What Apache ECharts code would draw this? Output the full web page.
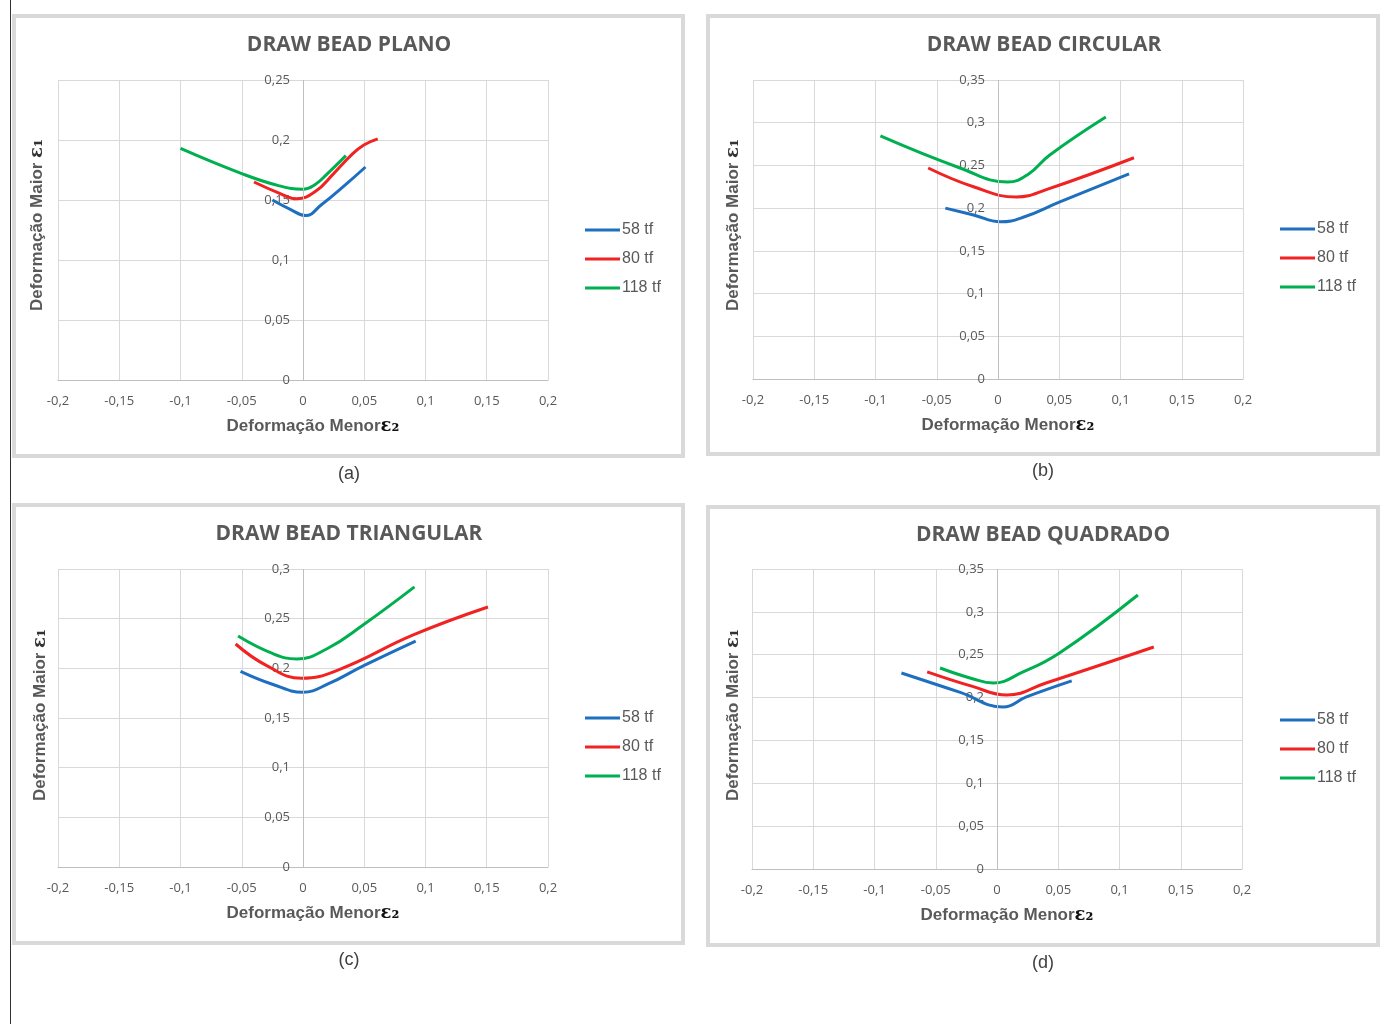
<!DOCTYPE html>
<html><head><meta charset="utf-8">
<script src="https://cdn.jsdelivr.net/npm/echarts@6/dist/echarts.min.js"></script>
<style>html,body{margin:0;padding:0;background:#fff}#c{width:1384px;height:1024px}</style>
</head><body><div id="c"></div>
<script>
// ---- data ----
const seriesNames = ['58 tf', '80 tf', '118 tf'];
const titles = ['DRAW BEAD PLANO', 'DRAW BEAD CIRCULAR', 'DRAW BEAD TRIANGULAR', 'DRAW BEAD QUADRADO'];
const captions = ['(a)', '(b)', '(c)', '(d)'];
const xTicks = [-0.2, -0.15, -0.1, -0.05, 0, 0.05, 0.1, 0.15, 0.2];
const yMaxes = [0.25, 0.35, 0.3, 0.35];

const planoBlue  = [[-0.025,0.150],[-0.010,0.142],[0.002,0.137],[0.015,0.146],[0.035,0.163],[0.051,0.1775]];
const planoRed   = [[-0.040,0.165],[-0.020,0.156],[-0.005,0.151],[0.010,0.157],[0.025,0.172],[0.040,0.188],[0.050,0.196],[0.061,0.201]];
const planoGreen = [[-0.100,0.193],[-0.050,0.172],[-0.020,0.162],[0.000,0.159],[0.010,0.163],[0.020,0.172],[0.035,0.187]];

const circBlue  = [[-0.043,0.200],[-0.020,0.192],[0.002,0.184],[0.020,0.189],[0.050,0.207],[0.107,0.240]];
const circRed   = [[-0.057,0.247],[-0.020,0.225],[0.015,0.213],[0.040,0.222],[0.111,0.259]];
const circGreen = [[-0.096,0.2845],[-0.031,0.247],[0.008,0.2306],[0.025,0.240],[0.042,0.262],[0.088,0.3067]];

const triBlue  = [[-0.051,0.197],[-0.025,0.184],[0.000,0.176],[0.020,0.184],[0.050,0.203],[0.092,0.2275]];
const triRed   = [[-0.055,0.2245],[-0.030,0.203],[-0.001,0.190],[0.030,0.199],[0.090,0.2336],[0.151,0.2617]];
const triGreen = [[-0.053,0.2325],[-0.025,0.215],[-0.005,0.2094],[0.020,0.220],[0.049,0.2436],[0.091,0.282]];

const quadBlue  = [[-0.078,0.2287],[-0.030,0.206],[0.005,0.189],[0.024,0.2007],[0.061,0.2194]];
const quadRed   = [[-0.057,0.230],[-0.020,0.213],[0.008,0.203],[0.040,0.217],[0.128,0.259]];
const quadGreen = [[-0.0465,0.2345],[-0.020,0.222],[-0.003,0.217],[0.020,0.229],[0.051,0.252],[0.115,0.3197]];

const panelData = [
  [planoBlue, planoRed, planoGreen],
  [circBlue, circRed, circGreen],
  [triBlue, triRed, triGreen],
  [quadBlue, quadRed, quadGreen]
];

// ---- layout ----
const colors = ['#1f6fc0', '#f02222', '#00b050'];
const grids = [
  {left: 58, top: 80, width: 490, height: 300},
  {left: 753, top: 80, width: 490, height: 299},
  {left: 58, top: 569, width: 490, height: 298},
  {left: 752, top: 569, width: 490, height: 300}
];
const boxes = [
  {x: 14, y: 16, w: 669, h: 440},
  {x: 708, y: 16, w: 670, h: 438},
  {x: 14, y: 505, w: 669, h: 438},
  {x: 708, y: 507, w: 670, h: 438}
];
const capPos = [[349, 474], [1043, 471], [349, 960], [1043, 963]];
const titlePos = [[344, 30], [1039, 30], [344, 519], [1038, 520]];
const legendPos = [[580, 217], [1275, 216], [580, 705], [1275, 707]];
const yNamePos = [[37, 225], [733, 225], [40, 715], [733, 715]];

function fmt(v) {
  return String(parseFloat(v.toFixed(3))).replace('.', ',');
}

const textGray = '#595959';
const option = {
  backgroundColor: '#fff',
  animation: false,
  title: titles.map((t, i) => ({
    text: t, left: titlePos[i][0], top: titlePos[i][1], textAlign: 'center',
    textStyle: {fontFamily: 'Open Sans', fontWeight: 'bold', fontSize: 21, color: textGray}
  })),
  legend: legendPos.map(p => ({
    data: seriesNames, orient: 'vertical', left: p[0], top: p[1],
    icon: 'rect', itemWidth: 35, itemHeight: 3, itemGap: 13,
    textStyle: {fontFamily: 'Liberation Sans', fontSize: 16, color: textGray, padding: [0, 0, 0, -3]}
  })),
  grid: grids.map(g => Object.assign({containLabel: false}, g)),
  xAxis: grids.map((g, i) => ({
    type: 'value', gridIndex: i, min: xTicks[0], max: xTicks[xTicks.length - 1], interval: 0.05,
    axisLine: {show: true, onZero: false, lineStyle: {color: '#bfbfbf', width: 1}},
    axisTick: {show: false},
    splitLine: {show: true, lineStyle: {color: '#d9d9d9', width: 1}},
    axisLabel: {formatter: fmt, fontFamily: 'Open Sans', fontSize: 13, color: textGray, margin: 15},
    name: '{t|Deformação Menor}{e|ε₂}',
    nameLocation: 'middle', nameGap: 37,
    nameTextStyle: {
      padding: [0, 0, 0, 20],
      rich: {
        t: {fontFamily: 'Liberation Sans', fontWeight: 'bold', fontSize: 17, color: textGray},
        e: {fontFamily: 'DejaVu Serif', fontWeight: 'bold', fontSize: 18, color: '#111'}
      }
    }
  })),
  yAxis: grids.map((g, i) => ({
    type: 'value', gridIndex: i, min: 0, max: yMaxes[i], interval: 0.05,
    axisLine: {show: false},
    axisTick: {show: false},
    splitLine: {show: true, lineStyle: {color: '#d9d9d9', width: 1}},
    // labels sit beside the vertical zero line (at the centre of the x range)
    axisLabel: {formatter: fmt, fontFamily: 'Open Sans', fontSize: 13, color: textGray, margin: -(g.width / 2 - 13)}
  })),
  series: [],
  graphic: []
};

panelData.forEach((arr, i) => {
  arr.forEach((d, k) => {
    option.series.push({
      type: 'line', name: seriesNames[k], xAxisIndex: i, yAxisIndex: i,
      data: d, smooth: 0.45, showSymbol: false, symbol: 'none',
      lineStyle: {color: colors[k], width: 3}, itemStyle: {color: colors[k]}
    });
  });
  // vertical zero axis line drawn via markLine on the x scale
  option.series.push({
    type: 'line', xAxisIndex: i, yAxisIndex: i, data: [], silent: true,
    markLine: {symbol: 'none', silent: true, label: {show: false},
      lineStyle: {color: '#bfbfbf', width: 1, type: 'solid'}, data: [{xAxis: 0}]}
  });
});

option.graphic.push({type: 'line', shape: {x1: 10.5, y1: 0, x2: 10.5, y2: 1024}, style: {stroke: '#333', lineWidth: 1}, silent: true});
boxes.forEach(b => {
  option.graphic.push({type: 'rect', z: -10, shape: {x: b.x, y: b.y, width: b.w, height: b.h},
    style: {fill: null, stroke: '#d9d9d9', lineWidth: 4}, silent: true});
});
captions.forEach((c, i) => {
  option.graphic.push({type: 'text', x: capPos[i][0], y: capPos[i][1],
    style: {text: c, fontFamily: 'Liberation Sans', fontSize: 18, fill: '#404040', align: 'center', verticalAlign: 'middle'}});
});
yNamePos.forEach((p, i) => {
  option.graphic.push({type: 'text', x: p[0], y: p[1], rotation: Math.PI / 2,
    style: {text: '{t|Deformação Maior }{e|ε₁}', align: 'center', verticalAlign: 'middle',
      rich: {
        t: {fontFamily: 'Liberation Sans', fontWeight: 'bold', fontSize: 17, fill: textGray},
        e: {fontFamily: 'DejaVu Serif', fontWeight: 'bold', fontSize: 18, fill: '#333'}
      }}});
});

const chart = echarts.init(document.getElementById('c'), null, {renderer: 'canvas'});
chart.setOption(option);
</script></body></html>
